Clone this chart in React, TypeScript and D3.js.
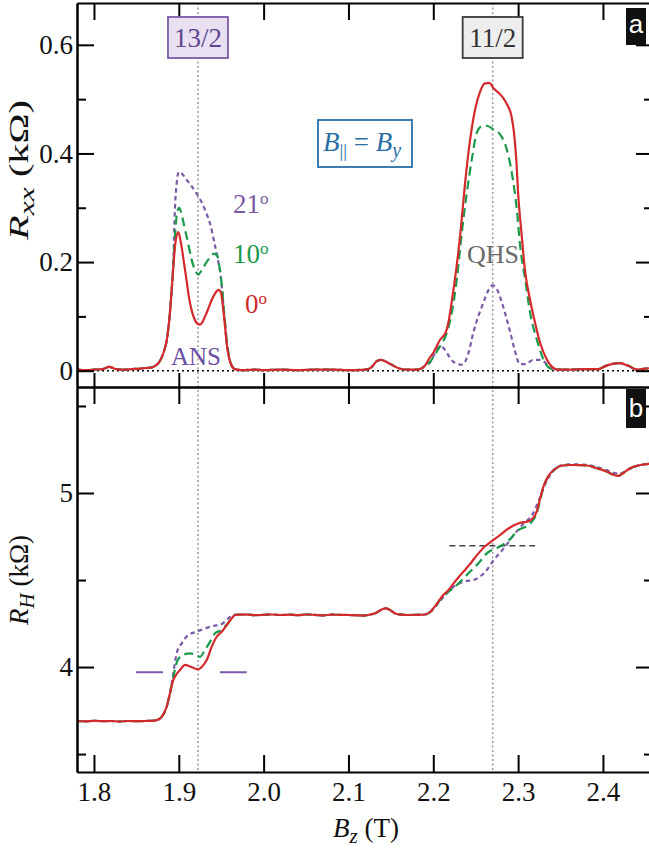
import React, { useEffect, useRef } from 'react';
import * as d3 from 'd3';

type Pt = [number, number];

// ---- panel a: Rxx (kOhm) vs Bz (T) ----
const rxxLow: Pt[] = [[1.78, 0.002], [1.79, 0.001], [1.80, 0.002], [1.81, 0.003], [1.818, 0.007], [1.826, 0.003], [1.835, 0.002], [1.845, 0.003], [1.855, 0.004], [1.862, 0.005], [1.868, 0.006], [1.872, 0.009], [1.876, 0.014], [1.880, 0.025], [1.883, 0.038], [1.886, 0.058], [1.8885, 0.09], [1.891, 0.135]];
const rxxMid: Pt[] = [[1.966, 0.003], [1.975, 0.001], [1.99, 0.002], [2.0, 0.001], [2.02, 0.002], [2.04, 0.001], [2.06, 0.002], [2.08, 0.002], [2.1, 0.001], [2.12, 0.002], [2.127, 0.006], [2.133, 0.017], [2.138, 0.02], [2.145, 0.016], [2.152, 0.01], [2.16, 0.004], [2.168, 0.002], [2.18, 0.002], [2.186, 0.004], [2.19, 0.009]];
const rxxHigh: Pt[] = [[2.346, 0.002], [2.36, 0.002], [2.38, 0.003], [2.395, 0.003], [2.402, 0.008], [2.41, 0.012], [2.42, 0.014], [2.43, 0.009], [2.44, 0.002], [2.45, 0.004], [2.46, 0.005]];

const rxx0Peak132: Pt[] = [[1.8935, 0.19], [1.896, 0.235], [1.8994, 0.255], [1.902, 0.24], [1.906, 0.2], [1.909, 0.168], [1.912, 0.135], [1.915, 0.112], [1.918, 0.097], [1.921, 0.088], [1.925, 0.085], [1.928, 0.09], [1.931, 0.1], [1.935, 0.115], [1.939, 0.131], [1.943, 0.143], [1.947, 0.149], [1.9495, 0.145], [1.9515, 0.125], [1.954, 0.09], [1.9565, 0.05], [1.959, 0.025], [1.962, 0.01]];
const rxx0Peak112: Pt[] = [[2.195, 0.022], [2.2, 0.033], [2.204, 0.045], [2.208, 0.057], [2.212, 0.064], [2.215, 0.072], [2.218, 0.09], [2.222, 0.13], [2.226, 0.174], [2.232, 0.254], [2.2375, 0.346], [2.2434, 0.425], [2.2493, 0.481], [2.2552, 0.514], [2.261, 0.529], [2.266, 0.53], [2.271, 0.52], [2.276, 0.513], [2.281, 0.505], [2.287, 0.49], [2.292, 0.47], [2.295, 0.44], [2.298, 0.385], [2.30, 0.327], [2.304, 0.253], [2.308, 0.186], [2.314, 0.131], [2.32, 0.088], [2.326, 0.051], [2.334, 0.02], [2.34, 0.007]];

const rxx10Peak132: Pt[] = [[1.8935, 0.195], [1.896, 0.26], [1.8985, 0.295], [1.9005, 0.3], [1.903, 0.29], [1.907, 0.262], [1.911, 0.235], [1.915, 0.205], [1.919, 0.186], [1.923, 0.177], [1.927, 0.185], [1.932, 0.198], [1.937, 0.209], [1.941, 0.215], [1.945, 0.213], [1.948, 0.19], [1.9505, 0.16], [1.9525, 0.125], [1.9545, 0.09], [1.957, 0.05], [1.9595, 0.025], [1.962, 0.01]];
const rxx10Peak112: Pt[] = [[2.196, 0.016], [2.202, 0.03], [2.208, 0.045], [2.216, 0.07], [2.2217, 0.106], [2.2277, 0.168], [2.2336, 0.254], [2.2395, 0.327], [2.2454, 0.389], [2.2513, 0.438], [2.2572, 0.45], [2.2631, 0.451], [2.2709, 0.444], [2.2788, 0.435], [2.2867, 0.407], [2.2926, 0.364], [2.2985, 0.296], [2.3024, 0.229], [2.3083, 0.168], [2.3142, 0.106], [2.3221, 0.057], [2.330, 0.02], [2.338, 0.004]];

const rxx21Peak132: Pt[] = [[1.8935, 0.2], [1.8955, 0.3], [1.8975, 0.345], [1.9, 0.366], [1.903, 0.364], [1.909, 0.352], [1.915, 0.34], [1.921, 0.326], [1.927, 0.31], [1.933, 0.288], [1.937, 0.27], [1.942, 0.235], [1.946, 0.205], [1.949, 0.18], [1.951, 0.15], [1.953, 0.11], [1.955, 0.075], [1.9575, 0.04], [1.96, 0.02], [1.963, 0.008]];
const rxx21Peak112: Pt[] = [[2.196, 0.015], [2.202, 0.032], [2.208, 0.045], [2.213, 0.04], [2.218, 0.028], [2.224, 0.016], [2.234, 0.011], [2.241, 0.03], [2.247, 0.069], [2.253, 0.1], [2.259, 0.125], [2.265, 0.148], [2.270, 0.157], [2.275, 0.15], [2.281, 0.125], [2.286, 0.098], [2.291, 0.069], [2.296, 0.038], [2.302, 0.012], [2.308, 0.012], [2.318, 0.02], [2.326, 0.02], [2.334, 0.012], [2.341, 0.002]];

const rxx0: Pt[] = [...rxxLow, ...rxx0Peak132, ...rxxMid, ...rxx0Peak112, ...rxxHigh];
const rxx10: Pt[] = [...rxxLow, ...rxx10Peak132, ...rxxMid, ...rxx10Peak112, ...rxxHigh];
const rxx21: Pt[] = [...rxxLow, ...rxx21Peak132, ...rxxMid, ...rxx21Peak112, ...rxxHigh];

// ---- panel b: RH (kOhm) vs Bz (T) ----
const rhLow: Pt[] = [[1.78, 3.69], [1.79, 3.688], [1.80, 3.691], [1.81, 3.689], [1.82, 3.69], [1.83, 3.687], [1.84, 3.69], [1.85, 3.689], [1.86, 3.69], [1.868, 3.691], [1.874, 3.695], [1.8798, 3.714], [1.8857, 3.772], [1.8896, 3.849]];
const rhMid: Pt[] = [[1.9722, 4.301], [1.98, 4.302], [1.99, 4.298], [2.0, 4.3], [2.01, 4.302], [2.02, 4.299], [2.03, 4.301], [2.04, 4.298], [2.05, 4.302], [2.06, 4.3], [2.07, 4.297], [2.08, 4.301], [2.09, 4.3], [2.1, 4.299], [2.11, 4.297], [2.118, 4.296], [2.126, 4.302], [2.133, 4.312], [2.139, 4.33], [2.144, 4.337], [2.149, 4.328], [2.155, 4.308], [2.162, 4.301], [2.17, 4.299], [2.18, 4.3], [2.19, 4.302], [2.196, 4.315]];
const rhHigh: Pt[] = [[2.361, 5.161], [2.372, 5.16], [2.381, 5.158], [2.393, 5.142], [2.405, 5.122], [2.413, 5.103], [2.418, 5.098], [2.424, 5.115], [2.432, 5.142], [2.444, 5.161], [2.454, 5.167], [2.46, 5.168]];

const rh0Step132: Pt[] = [[1.8935, 3.925], [1.8975, 3.96], [1.9014, 3.983], [1.9073, 4.013], [1.9132, 4.003], [1.9191, 3.992], [1.923, 3.987], [1.927, 4.0], [1.9329, 4.04], [1.9388, 4.117], [1.9447, 4.174], [1.9506, 4.203], [1.9565, 4.241], [1.9624, 4.28], [1.9663, 4.299]];
const rh0Step112: Pt[] = [[2.2, 4.337], [2.204, 4.362], [2.208, 4.39], [2.212, 4.415], [2.216, 4.433], [2.22, 4.455], [2.224, 4.481], [2.228, 4.505], [2.232, 4.529], [2.236, 4.55], [2.239, 4.567], [2.243, 4.59], [2.247, 4.615], [2.251, 4.64], [2.255, 4.663], [2.259, 4.685], [2.263, 4.701], [2.267, 4.716], [2.271, 4.73], [2.275, 4.745], [2.279, 4.759], [2.283, 4.775], [2.287, 4.791], [2.291, 4.803], [2.294, 4.812], [2.298, 4.82], [2.302, 4.828], [2.306, 4.832], [2.31, 4.835], [2.314, 4.842], [2.318, 4.858], [2.322, 4.895], [2.326, 4.97], [2.33, 5.04], [2.336, 5.1], [2.342, 5.132], [2.35, 5.155]];

const rh10Step132: Pt[] = [[1.8935, 3.94], [1.8975, 4.025], [1.9034, 4.065], [1.9132, 4.079], [1.92, 4.07], [1.925, 4.059], [1.9309, 4.098], [1.9368, 4.145], [1.9427, 4.194], [1.95, 4.212], [1.9565, 4.243], [1.9624, 4.28], [1.9663, 4.299]];
const rh10Step112: Pt[] = [[2.2, 4.335], [2.208, 4.385], [2.216, 4.424], [2.2277, 4.471], [2.2395, 4.529], [2.2532, 4.596], [2.2631, 4.653], [2.2768, 4.688], [2.2886, 4.726], [2.3004, 4.787], [2.3102, 4.81], [2.316, 4.835], [2.322, 4.885], [2.326, 4.96], [2.33, 5.035], [2.336, 5.097], [2.342, 5.13], [2.35, 5.155]];

const rh21Step132: Pt[] = [[1.8935, 3.964], [1.8975, 4.079], [1.9034, 4.136], [1.9112, 4.184], [1.921, 4.203], [1.9309, 4.222], [1.9407, 4.236], [1.9506, 4.247], [1.9584, 4.28], [1.9643, 4.299]];
const rh21Step112: Pt[] = [[2.2, 4.333], [2.208, 4.38], [2.216, 4.425], [2.224, 4.462], [2.236, 4.49], [2.2497, 4.504], [2.2615, 4.548], [2.2713, 4.615], [2.2831, 4.682], [2.295, 4.759], [2.3068, 4.826], [2.3166, 4.874], [2.3245, 4.96], [2.3324, 5.056], [2.3403, 5.122], [2.35, 5.158]];
const rh21High: Pt[] = [[2.361, 5.165], [2.381, 5.162], [2.393, 5.148], [2.405, 5.13], [2.413, 5.115], [2.42, 5.112], [2.428, 5.13], [2.438, 5.152], [2.45, 5.165], [2.46, 5.168]];

const rh0: Pt[] = [...rhLow, ...rh0Step132, ...rhMid, ...rh0Step112, ...rhHigh];
const rh10: Pt[] = [...rhLow, ...rh10Step132, ...rhMid, ...rh10Step112, ...rhHigh];
const rh21: Pt[] = [...rhLow, ...rh21Step132, ...rhMid, ...rh21Step112, ...rh21High];

// ticks, markers, labels
const xTicks = [1.8, 1.9, 2.0, 2.1, 2.2, 2.3, 2.4];
const rxxTicks = [0, 0.2, 0.4, 0.6];
const rxxMinor = [0.1, 0.3, 0.5];
const rhTicks = [4, 5];
const rhMinor = [3.5, 4.5, 5.5];
const fillingB = [1.9226, 2.27]; // nu = 13/2 and 11/2
const fillingNames = ['13/2', '11/2'];
const plateau132: Pt[] = [[1.8495, 3.97], [1.98, 3.97]];
const plateau112: Pt[] = [[2.219, 4.697], [2.32, 4.697]];
const angles = ['21', '10', '0'];

const RED = '#d42a2c';
const GREEN = '#1c9a4c';
const PURPLE = '#7b5aa8';
const serif = '"Liberation Serif", "Times New Roman", serif';

export default function App() {
  const svgRef = useRef<SVGSVGElement>(null);

  useEffect(() => {
    const svg = d3.select(svgRef.current);
    svg.selectAll('*').remove();

    const left = 77, right = 653;
    const topA = 3, midY = 387, botB = 772;

    const x = d3.scaleLinear().domain([1.78, 2.459]).range([left, right]);
    const ya = d3.scaleLinear().domain([-0.03, 0.677]).range([midY, topA]);
    const yb = d3.scaleLinear().domain([3.397, 5.609]).range([botB, midY]);

    const lineA = d3.line<Pt>().x(d => x(d[0])).y(d => ya(d[1])).curve(d3.curveMonotoneX);
    const lineB = d3.line<Pt>().x(d => x(d[0])).y(d => yb(d[1])).curve(d3.curveMonotoneX);

    // vertical filling-factor markers
    fillingB.forEach(b => {
      svg.append('line')
        .attr('x1', x(b)).attr('x2', x(b))
        .attr('y1', topA).attr('y2', botB)
        .attr('stroke', '#9a9a9a').attr('stroke-width', 1.5)
        .attr('stroke-dasharray', '2 2.5');
    });

    // zero line in panel a
    svg.append('line')
      .attr('x1', left).attr('x2', right)
      .attr('y1', ya(0)).attr('y2', ya(0))
      .attr('stroke', '#000').attr('stroke-width', 1.5)
      .attr('stroke-dasharray', '2 3');

    // quantized plateau references in panel b
    svg.append('path').datum(plateau132)
      .attr('d', d3.line<Pt>().x(d => x(d[0])).y(d => yb(d[1])))
      .attr('stroke', PURPLE).attr('stroke-width', 2).attr('fill', 'none')
      .attr('stroke-dasharray', '27 57');
    svg.append('path').datum(plateau112)
      .attr('d', d3.line<Pt>().x(d => x(d[0])).y(d => yb(d[1])))
      .attr('stroke', '#444').attr('stroke-width', 1.6).attr('fill', 'none')
      .attr('stroke-dasharray', '6 4');

    const series = [
      { a: rxx21, b: rh21, color: PURPLE, dash: '4.5 3.5' },
      { a: rxx10, b: rh10, color: GREEN, dash: '9 5' },
      { a: rxx0, b: rh0, color: RED, dash: null },
    ];
    series.forEach(s => {
      svg.append('path').datum(s.a)
        .attr('d', lineA).attr('fill', 'none')
        .attr('stroke', s.color).attr('stroke-width', 2.2)
        .attr('stroke-dasharray', s.dash);
      svg.append('path').datum(s.b)
        .attr('d', lineB).attr('fill', 'none')
        .attr('stroke', s.color).attr('stroke-width', 2.2)
        .attr('stroke-dasharray', s.dash);
    });

    const styleAxis = (g: any, labels: boolean) => {
      g.attr('font-family', serif).attr('font-size', 27);
      g.select('.domain').attr('stroke', '#000').attr('stroke-width', 2);
      g.selectAll('.tick line').attr('stroke', '#000').attr('stroke-width', 2);
      if (labels) g.selectAll('.tick text').attr('fill', '#111');
    };
    const fmtA = (d: any) => (d === 0 ? '0' : d3.format('.1f')(d));

    // panel a axes
    svg.append('g').attr('transform', `translate(${left},0)`)
      .call(d3.axisLeft(ya).tickValues(rxxTicks).tickSize(-17).tickSizeOuter(0).tickPadding(4).tickFormat(fmtA))
      .call(g => styleAxis(g, true));
    svg.append('g').attr('transform', `translate(${left},0)`)
      .call(d3.axisLeft(ya).tickValues(rxxMinor).tickSize(-9).tickSizeOuter(0).tickFormat(() => ''))
      .call(g => styleAxis(g, false));
    svg.append('g').attr('transform', `translate(${right},0)`)
      .call(d3.axisRight(ya).tickValues(rxxTicks).tickSize(-17).tickSizeOuter(0).tickFormat(() => ''))
      .call(g => styleAxis(g, false));
    svg.append('g').attr('transform', `translate(${right},0)`)
      .call(d3.axisRight(ya).tickValues(rxxMinor).tickSize(-9).tickSizeOuter(0).tickFormat(() => ''))
      .call(g => styleAxis(g, false));
    svg.append('g').attr('transform', `translate(0,${topA})`)
      .call(d3.axisTop(x).tickValues(xTicks).tickSize(-17).tickSizeOuter(0).tickFormat(() => ''))
      .call(g => styleAxis(g, false));
    svg.append('g').attr('transform', `translate(0,${midY})`)
      .call(d3.axisBottom(x).tickValues(xTicks).tickSize(-14).tickSizeOuter(0).tickFormat(() => ''))
      .call(g => styleAxis(g, false));

    // panel b axes
    svg.append('g').attr('transform', `translate(${left},0)`)
      .call(d3.axisLeft(yb).tickValues(rhTicks).tickSize(-17).tickSizeOuter(0).tickPadding(4).tickFormat(d3.format('d')))
      .call(g => styleAxis(g, true));
    svg.append('g').attr('transform', `translate(${left},0)`)
      .call(d3.axisLeft(yb).tickValues(rhMinor).tickSize(-9).tickSizeOuter(0).tickFormat(() => ''))
      .call(g => styleAxis(g, false));
    svg.append('g').attr('transform', `translate(${right},0)`)
      .call(d3.axisRight(yb).tickValues(rhTicks).tickSize(-17).tickSizeOuter(0).tickFormat(() => ''))
      .call(g => styleAxis(g, false));
    svg.append('g').attr('transform', `translate(${right},0)`)
      .call(d3.axisRight(yb).tickValues(rhMinor).tickSize(-9).tickSizeOuter(0).tickFormat(() => ''))
      .call(g => styleAxis(g, false));
    svg.append('g').attr('transform', `translate(0,${midY})`)
      .call(d3.axisTop(x).tickValues(xTicks).tickSize(-17).tickSizeOuter(0).tickFormat(() => ''))
      .call(g => styleAxis(g, false));
    svg.append('g').attr('transform', `translate(0,${botB})`)
      .call(d3.axisBottom(x).tickValues(xTicks).tickSize(-17).tickSizeOuter(0).tickPadding(10).tickFormat(d3.format('.1f')))
      .call(g => styleAxis(g, true));

    // axis titles
    const yTitleA = svg.append('text')
      .attr('transform', `translate(28,240) rotate(-90)`)
      .attr('font-family', serif).attr('font-size', 28).attr('fill', '#111')
      .attr('textLength', 140).attr('lengthAdjust', 'spacingAndGlyphs');
    yTitleA.append('tspan').attr('font-style', 'italic').text('R');
    yTitleA.append('tspan').attr('font-style', 'italic').attr('font-size', 22).attr('dy', 6).text('xx');
    yTitleA.append('tspan').attr('dy', -6).text(' (kΩ)');

    const yTitleB = svg.append('text')
      .attr('transform', `translate(28,625) rotate(-90)`)
      .attr('font-family', serif).attr('font-size', 27).attr('fill', '#111');
    yTitleB.append('tspan').attr('font-style', 'italic').text('R');
    yTitleB.append('tspan').attr('font-style', 'italic').attr('font-size', 21).attr('dy', 6).text('H');
    yTitleB.append('tspan').attr('dy', -6).text(' (kΩ)');

    const xTitle = svg.append('text')
      .attr('x', 333).attr('y', 837)
      .attr('font-family', serif).attr('font-size', 27).attr('fill', '#111');
    xTitle.append('tspan').attr('font-style', 'italic').text('B');
    xTitle.append('tspan').attr('font-style', 'italic').attr('font-size', 21).attr('dy', 6).text('z');
    xTitle.append('tspan').attr('dy', -6).text(' (T)');

    // filling factor boxes
    const boxStyles = [
      { fill: '#e9e1f1', stroke: PURPLE, text: '#5f4592' },
      { fill: '#eeeeee', stroke: '#3a3a3a', text: '#333' },
    ];
    fillingB.forEach((b, i) => {
      const cx = x(b);
      svg.append('rect')
        .attr('x', cx - 30).attr('y', 17).attr('width', 60).attr('height', 41)
        .attr('fill', boxStyles[i].fill).attr('stroke', boxStyles[i].stroke).attr('stroke-width', 1.8);
      svg.append('text')
        .attr('x', cx).attr('y', 47).attr('text-anchor', 'middle')
        .attr('font-family', serif).attr('font-size', 27).attr('fill', boxStyles[i].text)
        .text(fillingNames[i]);
    });

    // B_par = B_y box
    svg.append('rect')
      .attr('x', 318).attr('y', 120).attr('width', 94).attr('height', 47)
      .attr('fill', '#fff').attr('stroke', '#2a6ea6').attr('stroke-width', 1.8);
    const bt = svg.append('text')
      .attr('x', 323).attr('y', 151)
      .attr('font-family', serif).attr('font-size', 27).attr('fill', '#2a6ea6');
    bt.append('tspan').attr('font-style', 'italic').text('B');
    bt.append('tspan').attr('font-size', 19).attr('dy', 6).text('||');
    bt.append('tspan').attr('dy', -6).text(' = ');
    bt.append('tspan').attr('font-style', 'italic').text('B');
    bt.append('tspan').attr('font-style', 'italic').attr('font-size', 20).attr('dy', 6).text('y');

    // tilt angle labels
    const angleColors = [PURPLE, GREEN, RED];
    const angleX = [233, 233, 245];
    const angleY = [213, 263, 313];
    angles.forEach((a, i) => {
      const t = svg.append('text')
        .attr('x', angleX[i]).attr('y', angleY[i])
        .attr('font-family', serif).attr('font-size', 27).attr('fill', angleColors[i]);
      t.append('tspan').text(a);
      t.append('tspan').attr('font-size', 17).attr('dy', -9).text('o');
    });

    svg.append('text')
      .attr('x', 171).attr('y', 365)
      .attr('font-family', serif).attr('font-size', 25).attr('fill', '#6a4ea3')
      .text('ANS');
    svg.append('text')
      .attr('x', 467).attr('y', 263)
      .attr('font-family', serif).attr('font-size', 26).attr('fill', '#6a6a6a')
      .text('QHS');

    // panel letters
    [['a', 8, 37, 33], ['b', 389, 39, 417]].forEach(([ch, y0, h, base]) => {
      svg.append('rect')
        .attr('x', 626).attr('y', y0 as number).attr('width', 20).attr('height', h as number)
        .attr('fill', '#111');
      svg.append('text')
        .attr('x', 636).attr('y', base as number).attr('text-anchor', 'middle')
        .attr('font-family', '"Liberation Sans", Arial, sans-serif').attr('font-size', 26)
        .attr('fill', '#fff').text(ch as string);
    });
  }, []);

  return (
    <svg ref={svgRef} width={649} height={848}
      style={{ position: 'absolute', left: 0, top: 0, background: '#fff' }} />
  );
}
